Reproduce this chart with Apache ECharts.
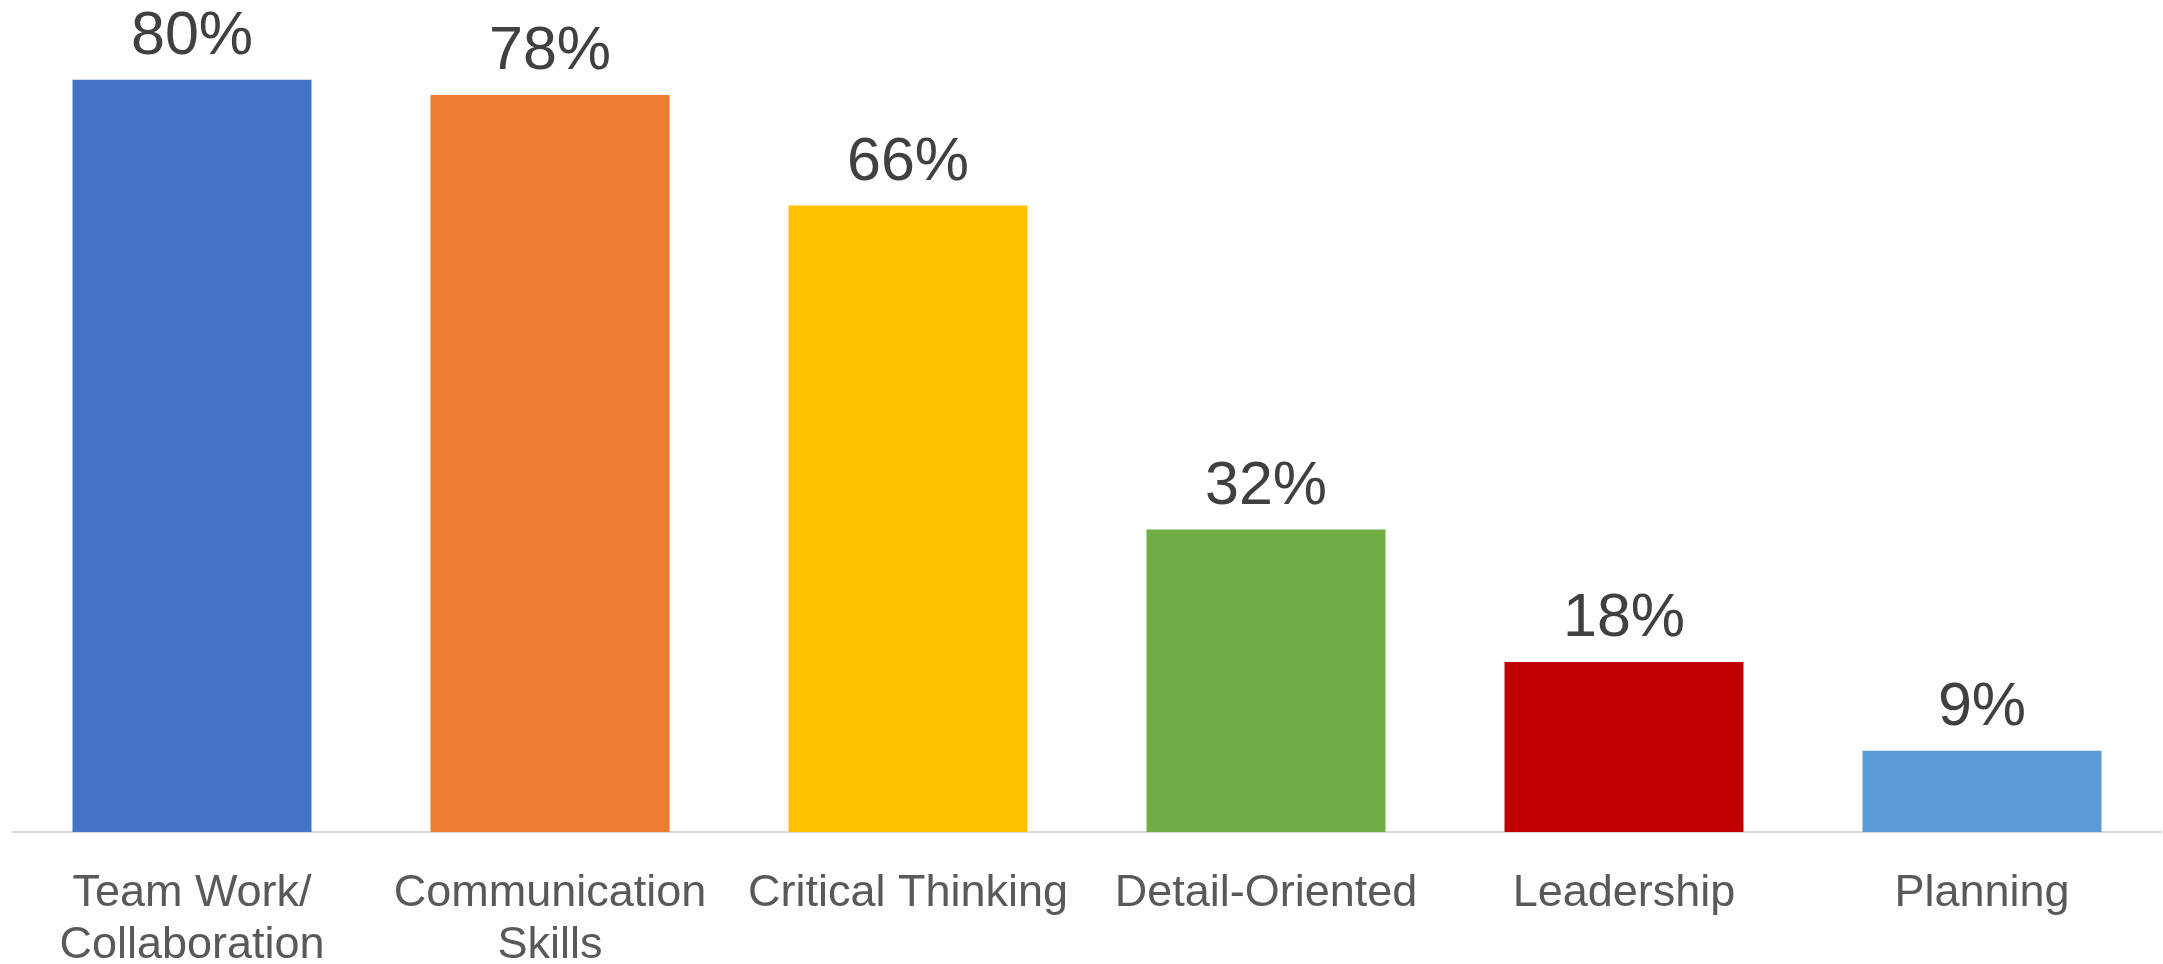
<!DOCTYPE html>
<html>
<head>
<meta charset="utf-8">
<script src="https://cdn.jsdelivr.net/npm/echarts@6/dist/echarts.min.js"></script>
<style>
html,body{margin:0;padding:0;background:#fff;}
#chart{width:2163px;height:964px;}
</style>
</head>
<body>
<div id="chart"></div>
<script>
// skills and share of respondents (%), labels shown rounded
var skills = ['Team Work/\nCollaboration', 'Communication\nSkills', 'Critical Thinking', 'Detail-Oriented', 'Leadership', 'Planning'];
var shares = [79.6, 78, 66.3, 32, 18, 8.6];
var barColors = ['#4472C4', '#ED7D31', '#FFC000', '#70AD47', '#C00000', '#5B9BD5'];

var oChart = echarts.init(document.getElementById('chart'));
var opt = {
  animation: false,
  grid: {left: 13, right: 2, top: 76, bottom: 132, containLabel: false, outerBoundsMode: 'none'},
  xAxis: {
    type: 'category',
    data: skills,
    axisLine: {lineStyle: {color: '#D9D9D9', width: 2}},
    axisTick: {show: false},
    axisLabel: {
      color: '#595959',
      fontSize: 45,
      fontFamily: 'Liberation Sans, Arial, sans-serif',
      lineHeight: 52,
      margin: 36,
      interval: 0
    }
  },
  yAxis: {
    type: 'value',
    min: 0,
    max: 80,
    show: false,
    splitLine: {show: false}
  },
  series: [{
    type: 'bar',
    barWidth: 239,
    data: shares.map(function (v, i) {
      return {value: v, itemStyle: {color: barColors[i]}};
    }),
    label: {
      show: true,
      position: 'top',
      distance: 12,
      formatter: function (p) { return Math.round(p.value) + '%'; },
      color: '#404040',
      fontSize: 61,
      fontFamily: 'Liberation Sans, Arial, sans-serif'
    }
  }]
};
oChart.setOption(opt);
</script>
</body>
</html>
